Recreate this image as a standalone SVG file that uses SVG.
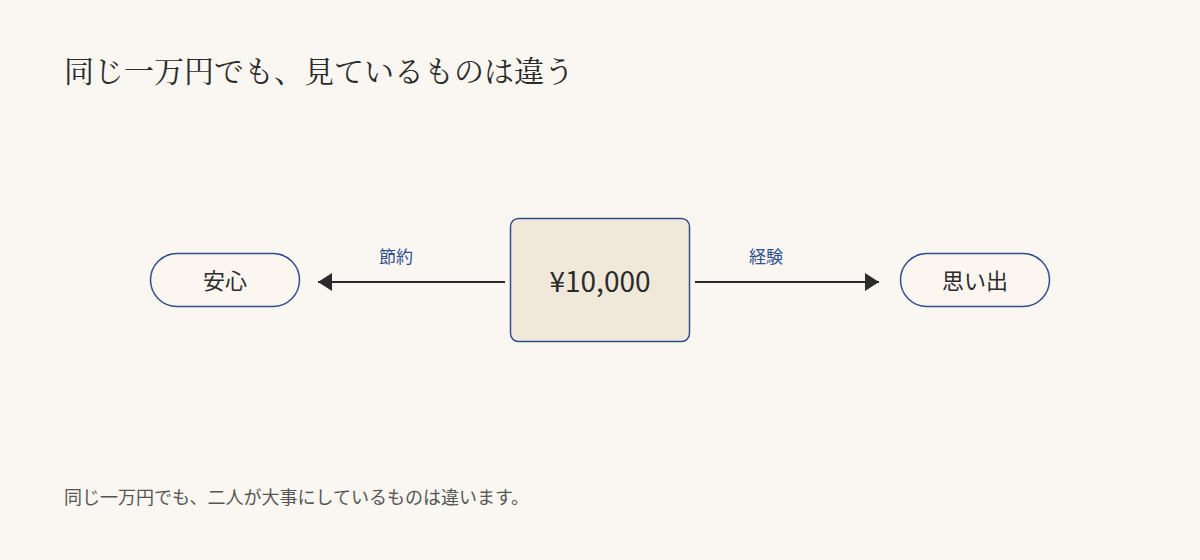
<svg xmlns="http://www.w3.org/2000/svg" width="1200" height="560" viewBox="0 0 1200 560">
<style>
.t{font-family:"Noto Serif CJK JP","Noto Sans CJK JP",serif;font-size:30px;fill:#2b2b2b}
.n{font-family:"Noto Sans CJK JP",sans-serif;fill:#2b2b2b;text-anchor:middle}
.pill{fill:#fbf6f0;stroke:#2f4f8f;stroke-width:1.5}
.lbl{font-family:"Noto Sans CJK JP",sans-serif;font-size:17px;fill:#2f4f8f;text-anchor:middle}
.c{stroke:#2b2b2b;stroke-width:2;fill:none}
</style>
<defs><marker id="ah" markerWidth="14" markerHeight="18" refX="14" refY="9" orient="auto" markerUnits="userSpaceOnUse"><path d="M0,0L14,9L0,18Z" fill="#2b2b2b"/></marker></defs>
<rect width="1200" height="560" fill="#faf6f1"/>
<text class="t" x="64" y="82">同じ一万円でも、見ているものは違う</text>
<g id="center"><rect x="510.5" y="218.5" width="179" height="123" rx="8" fill="#f0e9da" stroke="#2f4f8f" stroke-width="1.5"/><text class="n" x="600" y="292" font-size="28">¥10,000</text></g>
<g id="anshin"><rect class="pill" x="150.5" y="253.5" width="149" height="53" rx="26.5"/><text class="n" x="225" y="289" font-size="22">安心</text></g>
<g id="omoide"><rect class="pill" x="900.5" y="253.5" width="149" height="53" rx="26.5"/><text class="n" x="975" y="289" font-size="22">思い出</text></g>
<g id="connectors">
<line class="c" x1="505" y1="282" x2="318" y2="282" marker-end="url(#ah)"/>
<line class="c" x1="695" y1="282" x2="879" y2="282" marker-end="url(#ah)"/>
<text class="lbl" x="396" y="263">節約</text>
<text class="lbl" x="766" y="263">経験</text>
</g>
<text x="64" y="504" font-family="Noto Sans CJK JP,sans-serif" font-size="18" fill="#555">同じ一万円でも、二人が大事にしているものは違います。</text>
</svg>
